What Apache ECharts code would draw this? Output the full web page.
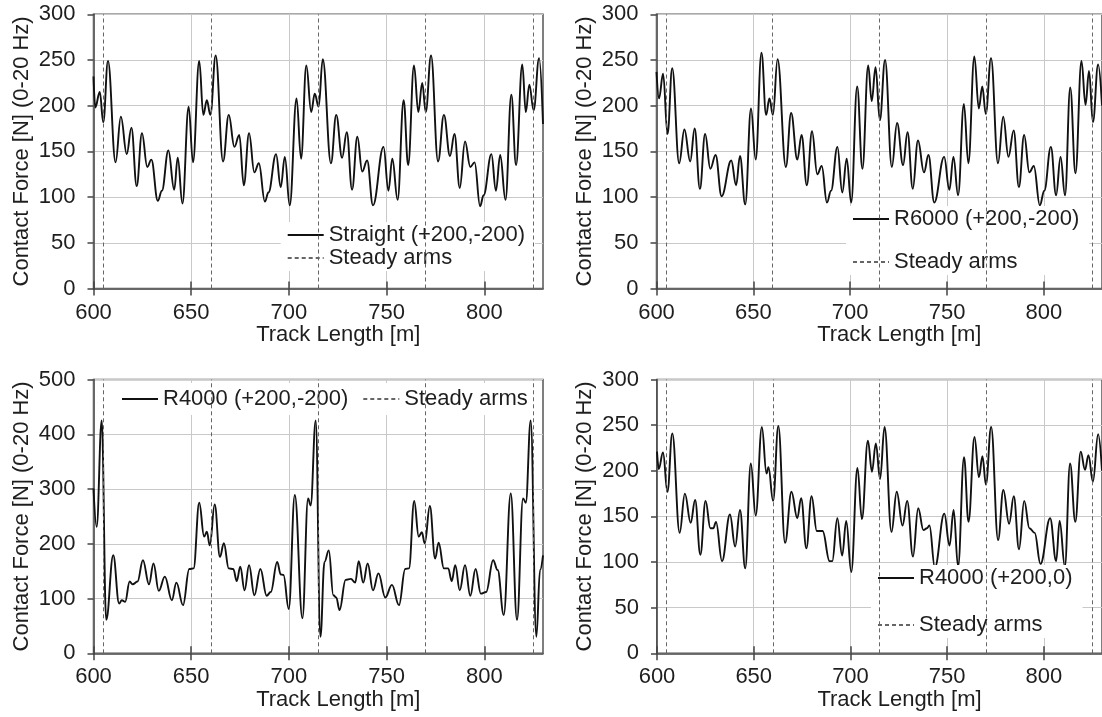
<!DOCTYPE html>
<html><head><meta charset="utf-8">
<script src="https://cdn.jsdelivr.net/npm/echarts@6/dist/echarts.min.js"></script>
<style>html,body{margin:0;padding:0;background:#fff}#c{width:1102px;height:717px}</style>
</head><body><div id="c"></div>
<script>
const steadyArms = [605, 660, 715, 770, 825];
const xTicks = [600, 650, 700, 750, 800];

const straight = [[600,232],[600.9,198],[603.2,215],[605,182],[607.4,249],[611.3,138],[614,188],[617,147],[619.4,176],[622.1,112],[624.8,170],[627.5,133],[629.6,141],[632.9,96],[635,107],[638.3,151],[641.3,108],[643.1,143],[645.5,93],[648.7,199],[650.9,138],[654.1,249],[656.2,190],[658,206],[659.8,190],[662.5,255],[666.3,139],[669.2,190],[672.1,155],[674.6,168],[676.9,113],[679.6,170],[682.3,127],[684.6,137],[687.7,95],[689.5,105],[693.4,147],[695.8,111],[697.9,144],[700.4,91],[703.9,208],[706.2,142],[708.9,244],[711.4,193],[713.2,213],[715.2,199],[717.3,251],[721.5,137],[724.2,190],[727.2,143],[729.6,171],[732.3,108],[735,166],[737.5,128],[740,140],[743,91],[748.4,155],[750.9,107],[752.9,142],[755.6,97],[758.7,206],[761,135],[764,244],[766.2,193],[768.2,225],[770,193],[772.7,255],[776.3,139],[779.3,190],[782.4,145],[784.7,169],[787.4,110],[790.1,161],[792.8,133],[795,138],[797.8,90],[799.6,102],[803.6,147],[805.9,107],[808.1,146],[810.8,97],[813.8,212],[816.2,135],[819.4,245],[821.2,193],[823,223],[825.2,195],[828,252],[830,180]];

const r6000 = [[600,237],[601.3,208],[603.4,235],[605.7,169],[608.1,241],[611.7,137],[614.4,174],[617.4,139],[619.7,175],[622.4,109],[625.1,169],[627.8,131],[630.5,146],[633.6,101],[638.6,140],[641.1,113],[643.1,145],[645.8,92],[648.8,197],[651.2,141],[654.2,258],[656.6,190],[658.3,208],[660.1,190],[662.5,251],[666.8,133],[669.5,192],[672.7,141],[674.9,168],[677.6,113],[680.3,172],[683,125],[685.3,134],[688,94],[690.1,107],[693.4,155],[695.9,105],[698.2,142],[700.5,94],[703.6,221],[706.3,131],[709.3,244],[711.1,205],[713.1,242],[715.3,184],[718,250],[721.5,133],[724.2,181],[727.3,135],[729.6,171],[732.3,109],[735,162],[738.1,127],[740.4,146],[743.4,94],[748.5,144],[751.2,108],[753.3,144],[755.7,102],[758.7,202],[761,137],[764.1,254],[766.4,197],[768.2,221],[770,191],[772.7,252],[776.3,137],[779,188],[781.7,144],[784.4,173],[787.1,111],[789.8,168],[792.5,127],[794.8,134],[797.9,91],[800.2,107],[803.6,155],[806.3,102],[808.6,144],[810.9,102],[813.6,220],[816.3,126],[819.4,249],[821.5,201],[823.3,238],[825.3,182],[828,245],[830,200]];

const r4000 = [[600,301],[601.6,231],[604.2,425],[606.5,61],[610.1,179],[613.1,91],[614.5,97],[616.2,94],[618.5,131],[620,126],[622.5,131],[625.3,170],[628.4,126],[630.7,164],[633.4,114],[636.5,140],[640.1,97],[642.4,129],[645.8,88],[649,154],[651.2,155],[654.1,275],[656.6,213],[658,222],[659.5,197],[662,272],[664.7,176],[666.7,201],[669.2,155],[671.5,154],[673.3,132],[675.1,158],[677.3,115],[679.6,161],[682.3,106],[685.4,154],[688.6,105],[690.7,112],[694,167],[695.8,144],[697.2,143],[699.9,81],[703,289],[706.9,64],[709.8,283],[711.1,270],[713.7,425],[716.1,30],[718.2,167],[720.4,188],[722.7,106],[724.2,102],[725.9,79],[729,134],[731.7,136],[733.9,129],[735.7,168],[738,129],[740.3,164],[743,115],[745.8,146],[749.3,102],[752.7,125],[756.3,88],[759.5,154],[761.4,155],[764.1,278],[766.4,213],[768,221],[769.5,201],[772.1,269],[774.8,173],[776.6,202],[779.3,155],[781.5,155],[783.3,132],[785.1,161],[787.4,115],[790.1,161],[792.8,105],[795.5,154],[798.2,109],[800.9,112],[804.5,170],[806.8,152],[809.9,70],[813.5,292],[816.7,61],[819.8,283],[821.2,275],[823.7,425],[826.6,30],[828.5,152],[830,179]];

const r4000b = [[600,221],[600.9,202],[603.1,220],[605.4,177],[607.9,241],[611.7,132],[614.4,175],[617.4,143],[619.7,168],[622.4,108],[625.1,167],[627.6,137],[629.1,137],[630.5,144],[633.6,101],[637.7,152],[640.4,117],[642.9,157],[645.6,93],[648.5,208],[651,151],[654.2,248],[656.6,197],[657.6,204],[660,167],[662.7,249],[666.2,121],[669.5,177],[672.5,148],[674.5,170],[677.2,115],[679.9,172],[682.6,134],[685.6,134],[689.2,101],[690.6,101],[693.2,148],[695.7,107],[697.8,145],[700.4,89],[703.6,203],[705.9,147],[709,233],[711.1,199],[713.1,230],[715.3,191],[717.6,248],[721.2,133],[723.9,177],[726.9,140],[729.3,167],[732.3,106],[735,159],[737.7,135],[739.5,137],[740.8,140],[743.6,94],[748.5,153],[751.2,118],[753.3,157],[755.6,95],[758.7,215],[761,144],[764.1,237],[766.4,193],[768.2,216],[770,185],[772.7,248],[776.3,124],[779,179],[782,142],[784.4,172],[787.1,114],[789.8,167],[792.5,137],[795.2,132],[798.2,98],[803.2,148],[806.3,101],[808.1,145],[810.8,95],[813.5,208],[816.2,144],[819,221],[821.2,201],[823,217],[825.3,188],[828,240],[830,200]];

const panelNames = ['Straight (+200,-200)', 'R6000 (+200,-200)', 'R4000 (+200,-200)', 'R4000 (+200,0)'];
const panelData = [straight, r6000, r4000, r4000b];
const yMax = [300, 300, 500, 300];
const yStep = [50, 50, 100, 50];

const FONT = "'Liberation Sans', Arial, sans-serif";
const TXT = '#1e1e1e';
const AX = '#444';
const GRID = '#c9c9c9';

const grids = [
  {left: 93.5, top: 14.3, width: 449.5, height: 274.2},
  {left: 656.5, top: 14.3, width: 451.5, height: 274.2},
  {left: 93.5, top: 379.5, width: 449.5, height: 273.8},
  {left: 657, top: 379.5, width: 451, height: 273.8}
];

const xAxes = [], yAxes = [], series = [];
grids.forEach((g, i) => {
  g.show = true; g.borderColor = '#555'; g.borderWidth = 1.5; g.backgroundColor = 'transparent';
  xAxes.push({
    gridIndex: i, type: 'value', position: 'bottom', min: 600, max: 830, interval: 50,
    name: 'Track Length [m]', nameLocation: 'middle', nameGap: 35,
    nameTextStyle: {fontSize: 22, color: TXT, fontFamily: FONT, padding: [0, 0, 0, 40]},
    axisLine: {show: true, lineStyle: {color: AX, width: 1.5}},
    axisTick: {show: true, length: 7, customValues: xTicks, lineStyle: {color: AX, width: 1.5}},
    axisLabel: {fontSize: 22, color: TXT, fontFamily: FONT, margin: 13, customValues: xTicks},
    splitLine: {show: true, lineStyle: {color: GRID, width: 1}}
  });
  xAxes.push({
    gridIndex: i, type: 'value', position: 'bottom', min: 600, max: 830, interval: 50,
    axisLine: {show: false},
    axisTick: {show: true, inside: true, length: 7, customValues: xTicks, lineStyle: {color: AX, width: 1.5}},
    axisLabel: {show: false}, splitLine: {show: false}
  });
  yAxes.push({
    gridIndex: i, type: 'value', min: 0, max: yMax[i], interval: yStep[i],
    name: 'Contact Force [N] (0-20 Hz)', nameLocation: 'middle', nameGap: 61,
    nameTextStyle: {fontSize: 22, color: TXT, fontFamily: FONT},
    axisLine: {show: true, lineStyle: {color: AX, width: 1.5}},
    axisTick: {show: true, length: 6, lineStyle: {color: AX, width: 1.5}},
    axisLabel: {fontSize: 22, color: TXT, fontFamily: FONT, margin: 18},
    splitLine: {show: true, lineStyle: {color: GRID, width: 1}}
  });
  series.push({
    type: 'line', name: 'Steady arms', xAxisIndex: 2 * i, yAxisIndex: i, data: [],
    symbol: 'none', silent: true, z: 2,
    lineStyle: {color: '#666', width: 1, type: [4, 3]},
    markLine: {
      silent: true, symbol: ['none', 'none'], label: {show: false}, animation: false,
      lineStyle: {color: '#666', width: 1, type: [4, 3]},
      emphasis: {disabled: true},
      data: steadyArms.map(v => ({xAxis: v}))
    }
  });
  series.push({
    type: 'line', name: panelNames[i], xAxisIndex: 2 * i, yAxisIndex: i,
    data: panelData[i], smooth: 0.4, smoothMonotone: 'x', symbol: 'none', silent: true, z: 3,
    lineStyle: {color: '#111', width: 1.9}
  });
});

const legText = {fontSize: 22, color: TXT, fontFamily: FONT, lineHeight: 22};
const legends = [
  {orient: 'vertical', left: 280.7, top: 222, padding: [2, 10, 2, 6], itemGap: 1,
   data: [panelNames[0], 'Steady arms']},
  {orient: 'vertical', left: 846, top: 206, padding: [2, 10, 2, 6], itemGap: 21,
   data: [panelNames[1], 'Steady arms']},
  {orient: 'horizontal', left: 107, top: 383, padding: [5, 10, 5, 14], itemGap: 14,
   data: [panelNames[2], 'Steady arms']},
  {orient: 'vertical', left: 871, top: 565, padding: [2, 10, 2, 6], itemGap: 25,
   data: [panelNames[3], 'Steady arms']}
].map(l => Object.assign(l, {
  backgroundColor: '#fff', itemWidth: 36, itemHeight: 14, selectedMode: false,
  textStyle: legText,
  itemStyle: {color: 'rgba(0,0,0,0)', borderWidth: 0, opacity: 0}
}));

const chart = echarts.init(document.getElementById('c'), null, {renderer: 'canvas'});
chart.setOption({
  animation: false,
  backgroundColor: '#fff',
  textStyle: {fontFamily: FONT},
  grid: grids, xAxis: xAxes, yAxis: yAxes, legend: legends, series: series
});
</script></body></html>
